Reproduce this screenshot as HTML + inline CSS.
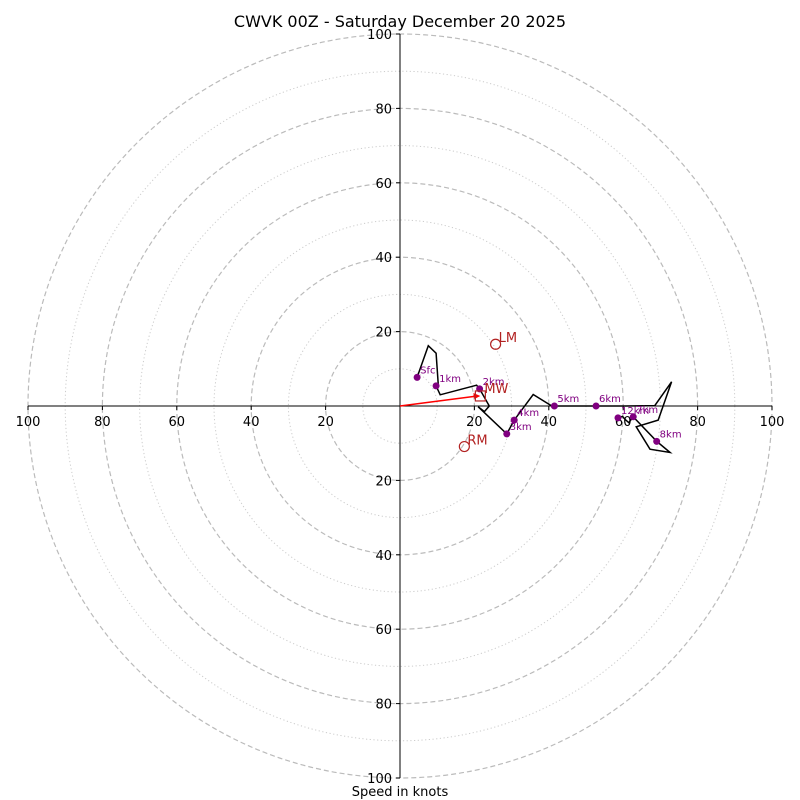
<!DOCTYPE html>
<html><head><meta charset="utf-8"><style>
html,body{margin:0;padding:0;background:#fff;}
svg{display:block;font-family:"DejaVu Sans","Liberation Sans",sans-serif;}
</style></head><body>
<svg id="chart" width="800" height="800" viewBox="0 0 800 800">
<text x="400" y="27" text-anchor="middle" font-size="16" fill="#000">CWVK 00Z - Saturday December 20 2025</text>
<text x="400" y="796" text-anchor="middle" font-size="13" fill="#000">Speed in knots</text>
<g id="rings"></g><g id="axes"></g><g id="series"></g>
</svg>
<script>
const ringValues=[10,20,30,40,50,60,70,80,90,100];
const tickValues=[20,40,60,80,100];
const heightLabels=["Sfc","","","","1km","","","2km","","","","3km","4km","","","5km","6km","","","","","","","","","8km","7km","","","","12km"];
const uWind=[4.6,7.6,9.7,10.3,9.7,10.8,20.6,21.4,24.0,22.7,21.0,28.7,30.7,35.8,40.8,41.5,52.7,60.5,68.5,73.0,69.4,63.5,67.2,72.6,69.0,69.0,62.7,61.5,60.5,59.8,58.6];
const vWind=[7.7,16.2,14.2,5.6,5.4,3.0,5.6,4.6,0.0,-1.5,-0.2,-7.5,-3.8,3.1,0.0,0.0,0.0,0.0,0.1,6.5,-3.8,-5.6,-11.6,-12.5,-9.5,-9.5,-2.9,-4.5,-3.6,-2.8,-3.2];
const stormNames=["LM","RM"];
const stormU=[25.7,17.3];
const stormV=[16.6,-10.9];
const meanWindU=[21.6];
const meanWindV=[2.7];
const cx=400,cy=406,k=3.72;
const X=u=>cx+u*k, Y=v=>cy-v*k;
const NS="http://www.w3.org/2000/svg";
function mk(tag,attrs,parent){const e=document.createElementNS(NS,tag);for(const a in attrs)e.setAttribute(a,attrs[a]);document.getElementById(parent).appendChild(e);return e;}
ringValues.forEach(r=>{
 const c=mk("circle",{cx:cx,cy:cy,r:r*k,fill:"none",stroke:r%20===0?"#bbb":"#ccc","stroke-width":r%20===0?1.2:1,"stroke-dasharray":r%20===0?"5,3":"1.2,2.5"},"rings");
 
 
});
let l=mk("line",{x1:X(-100),y1:cy,x2:X(100),y2:cy,stroke:"#000","stroke-width":1},"axes");


l=mk("line",{x1:cx,y1:Y(100),x2:cx,y2:Y(-100),stroke:"#000","stroke-width":1},"axes");


tickValues.forEach(t=>{
 [-1,1].forEach(s=>{
  const tk=mk("line",{x1:X(s*t),y1:cy,x2:X(s*t),y2:cy+4,stroke:"#000"},"axes");
  
  
  const tx=mk("text",{x:X(s*t),y:cy+20,"text-anchor":"middle","font-size":13},"axes");
  tx.textContent=t;
  
  
  const ty=mk("line",{x1:cx-4,y1:Y(s*t),x2:cx,y2:Y(s*t),stroke:"#000"},"axes");
  
  
  const tl=mk("text",{x:cx-8,y:Y(s*t)+5,"text-anchor":"end","font-size":13},"axes");
  tl.textContent=t;
  
  
 });
});
const pts=uWind.map((u,i)=>X(u).toFixed(1)+","+Y(vWind[i]).toFixed(1)).join(" ");
const pl=mk("polyline",{points:pts,fill:"none",stroke:"#000","stroke-width":1.5},"series");


heightLabels.forEach((h,i)=>{
 if(!h)return;
 const d=mk("circle",{cx:X(uWind[i]),cy:Y(vWind[i]),r:3.5,fill:"purple"},"series");
 
 
 const t=mk("text",{x:X(uWind[i])+3,y:Y(vWind[i])-4,"font-size":10,fill:"purple"},"series");
 t.textContent=h;
 
 
});
const ar=mk("line",{x1:cx,y1:cy,x2:X(meanWindU[0])-3,y2:Y(meanWindV[0]),stroke:"red","stroke-width":1.5},"series");


const ah=mk("polygon",{points:`${X(meanWindU[0])},${Y(meanWindV[0])} ${X(meanWindU[0])-7},${Y(meanWindV[0])-3} ${X(meanWindU[0])-6},${Y(meanWindV[0])+3}`,fill:"red"},"series");


const sq=mk("rect",{x:X(meanWindU[0])-5,y:Y(meanWindV[0])-5,width:10,height:10,fill:"none",stroke:"#b22222","stroke-width":1.2},"series");


const mw=mk("text",{x:X(meanWindU[0])+4,y:Y(meanWindV[0])-3,"font-size":13,fill:"#b22222"},"series");
mw.textContent="MW";


stormNames.forEach((n,i)=>{
 const c=mk("circle",{cx:X(stormU[i]),cy:Y(stormV[i]),r:5,fill:"none",stroke:"#b22222","stroke-width":1.2},"series");
 
 
 const t=mk("text",{x:X(stormU[i])+3,y:Y(stormV[i])-2,"font-size":13,fill:"#b22222"},"series");
 t.textContent=n;
 
 
});
</script>
</body></html>
